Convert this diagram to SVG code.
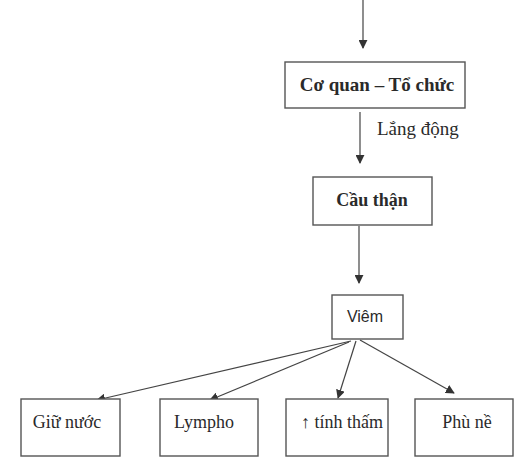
<svg xmlns="http://www.w3.org/2000/svg" width="526" height="462" viewBox="0 0 526 462">
  <defs>
    <marker id="arrow" viewBox="0 0 10 10" refX="9" refY="5" markerWidth="9" markerHeight="9" markerUnits="userSpaceOnUse" orient="auto">
      <path d="M0,0 L10,5 L0,10 z" fill="#333"/>
    </marker>
    <style>
      .box { fill: #fff; stroke: #555; stroke-width: 1.4; }
      .lbl { font-family: "Liberation Serif", "DejaVu Serif", serif; font-size: 18px; fill: #2a2a2a; text-anchor: middle; }
      .bold { font-weight: bold; }
      .sans { font-family: "Liberation Sans", "DejaVu Sans", sans-serif; }
      .edge { stroke: #444; stroke-width: 1.2; fill: none; marker-end: url(#arrow); }
    </style>
  </defs>
  <rect width="526" height="462" fill="#fff"/>

  <g id="connectors">
    <line class="edge" x1="363" y1="0" x2="363" y2="48"/>
    <line class="edge" x1="360" y1="112" x2="360" y2="163"/>
    <line class="edge" x1="359" y1="226" x2="359" y2="283"/>
    <line class="edge" x1="351" y1="341" x2="97" y2="400"/>
    <line class="edge" x1="349" y1="342" x2="210" y2="400"/>
    <line class="edge" x1="356" y1="341" x2="338" y2="398"/>
    <line class="edge" x1="360" y1="340" x2="454" y2="393"/>
    <text class="lbl" x="377" y="135" style="text-anchor:start; font-size:19px">Lắng động</text>
  </g>

  <g id="co-quan">
    <rect class="box" x="285" y="62" width="180" height="46" stroke="#333"/>
    <text class="lbl bold" x="377" y="91" font-size="19" style="font-size:19px">Cơ quan – Tổ chức</text>
  </g>

  <g id="cau-than">
    <rect class="box" x="313" y="177" width="119" height="48"/>
    <text class="lbl bold" x="372" y="206">Cầu thận</text>
  </g>

  <g id="viem">
    <rect class="box" x="332" y="295" width="71" height="44"/>
    <text class="lbl sans" x="365" y="322" style="font-size:16px">Viêm</text>
  </g>

  <g id="giu-nuoc">
    <rect class="box" x="21" y="399" width="99" height="57"/>
    <text class="lbl" x="67" y="428">Giữ nước</text>
  </g>

  <g id="lympho">
    <rect class="box" x="160" y="399" width="98" height="57"/>
    <text class="lbl" x="204" y="428">Lympho</text>
  </g>

  <g id="tinh-tham">
    <rect class="box" x="286" y="399" width="102" height="57"/>
    <text class="lbl" x="342" y="428">↑ tính thấm</text>
  </g>

  <g id="phu-ne">
    <rect class="box" x="415" y="399" width="98" height="57"/>
    <text class="lbl" x="467" y="428">Phù nề</text>
  </g>
</svg>
